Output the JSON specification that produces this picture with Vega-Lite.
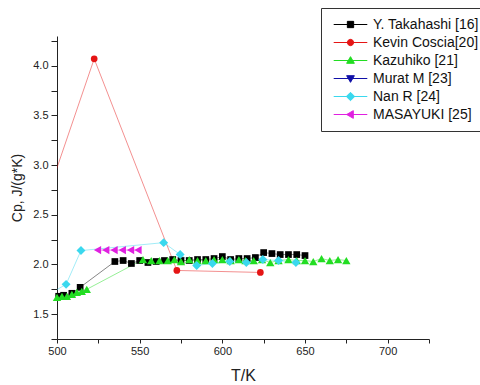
{
  "$schema": "https://vega.github.io/schema/vega-lite/v6.json",
  "autosize": "none",
  "width": 372,
  "height": 303,
  "padding": {"left": 57, "top": 36, "right": 51, "bottom": 46},
  "background": "white",
  "config": {
    "font": "Liberation Sans",
    "view": {"stroke": null},
    "axis": {"grid": false, "domainColor": "#222", "tickColor": "#222", "labelColor": "#222", "titleColor": "#222", "labelFont": "Liberation Sans", "titleFont": "Liberation Sans", "titleFontWeight": "normal", "labelFontSize": 11}
  },
  "data": {
    "values": [
      {"series": "Y. Takahashi [16]", "T": 501, "Cp": 1.68},
      {"series": "Y. Takahashi [16]", "T": 504, "Cp": 1.69},
      {"series": "Y. Takahashi [16]", "T": 509, "Cp": 1.71},
      {"series": "Y. Takahashi [16]", "T": 514, "Cp": 1.77},
      {"series": "Y. Takahashi [16]", "T": 535, "Cp": 2.03},
      {"series": "Y. Takahashi [16]", "T": 540, "Cp": 2.04},
      {"series": "Y. Takahashi [16]", "T": 545, "Cp": 2.01},
      {"series": "Y. Takahashi [16]", "T": 550, "Cp": 2.04},
      {"series": "Y. Takahashi [16]", "T": 555, "Cp": 2.02},
      {"series": "Y. Takahashi [16]", "T": 560, "Cp": 2.03},
      {"series": "Y. Takahashi [16]", "T": 565, "Cp": 2.04},
      {"series": "Y. Takahashi [16]", "T": 570, "Cp": 2.05},
      {"series": "Y. Takahashi [16]", "T": 575, "Cp": 2.04},
      {"series": "Y. Takahashi [16]", "T": 580, "Cp": 2.04},
      {"series": "Y. Takahashi [16]", "T": 585, "Cp": 2.05},
      {"series": "Y. Takahashi [16]", "T": 590, "Cp": 2.05},
      {"series": "Y. Takahashi [16]", "T": 595, "Cp": 2.06},
      {"series": "Y. Takahashi [16]", "T": 600, "Cp": 2.08},
      {"series": "Y. Takahashi [16]", "T": 605, "Cp": 2.05},
      {"series": "Y. Takahashi [16]", "T": 610, "Cp": 2.06},
      {"series": "Y. Takahashi [16]", "T": 615, "Cp": 2.06},
      {"series": "Y. Takahashi [16]", "T": 620, "Cp": 2.07},
      {"series": "Y. Takahashi [16]", "T": 625, "Cp": 2.12},
      {"series": "Y. Takahashi [16]", "T": 630, "Cp": 2.11},
      {"series": "Y. Takahashi [16]", "T": 635, "Cp": 2.10},
      {"series": "Y. Takahashi [16]", "T": 640, "Cp": 2.10},
      {"series": "Y. Takahashi [16]", "T": 645, "Cp": 2.10},
      {"series": "Y. Takahashi [16]", "T": 650, "Cp": 2.09},
      {"series": "Kevin Coscia[20]", "T": 480, "Cp": 2.0},
      {"series": "Kevin Coscia[20]", "T": 522.5, "Cp": 4.07},
      {"series": "Kevin Coscia[20]", "T": 572.5, "Cp": 1.94},
      {"series": "Kevin Coscia[20]", "T": 623, "Cp": 1.92},
      {"series": "Kazuhiko [21]", "T": 500, "Cp": 1.67},
      {"series": "Kazuhiko [21]", "T": 503, "Cp": 1.68},
      {"series": "Kazuhiko [21]", "T": 506, "Cp": 1.68},
      {"series": "Kazuhiko [21]", "T": 509, "Cp": 1.70},
      {"series": "Kazuhiko [21]", "T": 512, "Cp": 1.72},
      {"series": "Kazuhiko [21]", "T": 515, "Cp": 1.73},
      {"series": "Kazuhiko [21]", "T": 518, "Cp": 1.75},
      {"series": "Kazuhiko [21]", "T": 552, "Cp": 2.05},
      {"series": "Kazuhiko [21]", "T": 557, "Cp": 2.04},
      {"series": "Kazuhiko [21]", "T": 562, "Cp": 2.04},
      {"series": "Kazuhiko [21]", "T": 567, "Cp": 2.04},
      {"series": "Kazuhiko [21]", "T": 571, "Cp": 2.05},
      {"series": "Kazuhiko [21]", "T": 575, "Cp": 2.03},
      {"series": "Kazuhiko [21]", "T": 580, "Cp": 2.05},
      {"series": "Kazuhiko [21]", "T": 585, "Cp": 2.04},
      {"series": "Kazuhiko [21]", "T": 590, "Cp": 2.04},
      {"series": "Kazuhiko [21]", "T": 595, "Cp": 2.05},
      {"series": "Kazuhiko [21]", "T": 600, "Cp": 2.05},
      {"series": "Kazuhiko [21]", "T": 605, "Cp": 2.04},
      {"series": "Kazuhiko [21]", "T": 610, "Cp": 2.05},
      {"series": "Kazuhiko [21]", "T": 614, "Cp": 2.04},
      {"series": "Kazuhiko [21]", "T": 619, "Cp": 2.04},
      {"series": "Kazuhiko [21]", "T": 624, "Cp": 2.05},
      {"series": "Kazuhiko [21]", "T": 629, "Cp": 2.02},
      {"series": "Kazuhiko [21]", "T": 634, "Cp": 2.04},
      {"series": "Kazuhiko [21]", "T": 640, "Cp": 2.05},
      {"series": "Kazuhiko [21]", "T": 645, "Cp": 2.04},
      {"series": "Kazuhiko [21]", "T": 650, "Cp": 2.04},
      {"series": "Kazuhiko [21]", "T": 655, "Cp": 2.03},
      {"series": "Kazuhiko [21]", "T": 660, "Cp": 2.06},
      {"series": "Kazuhiko [21]", "T": 665, "Cp": 2.04},
      {"series": "Kazuhiko [21]", "T": 670, "Cp": 2.05},
      {"series": "Kazuhiko [21]", "T": 675, "Cp": 2.04},
      {"series": "Nan R [24]", "T": 495, "Cp": 1.70},
      {"series": "Nan R [24]", "T": 505.5, "Cp": 1.80},
      {"series": "Nan R [24]", "T": 514.5, "Cp": 2.14},
      {"series": "Nan R [24]", "T": 564.5, "Cp": 2.22},
      {"series": "Nan R [24]", "T": 574.5, "Cp": 2.10},
      {"series": "Nan R [24]", "T": 584.5, "Cp": 1.99},
      {"series": "Nan R [24]", "T": 594, "Cp": 2.01},
      {"series": "Nan R [24]", "T": 604.5, "Cp": 2.03},
      {"series": "Nan R [24]", "T": 614.5, "Cp": 2.02},
      {"series": "Nan R [24]", "T": 624.5, "Cp": 2.05},
      {"series": "Nan R [24]", "T": 634, "Cp": 2.04},
      {"series": "Nan R [24]", "T": 644.5, "Cp": 2.02},
      {"series": "MASAYUKI [25]", "T": 524.5, "Cp": 2.145},
      {"series": "MASAYUKI [25]", "T": 529.5, "Cp": 2.145},
      {"series": "MASAYUKI [25]", "T": 534.5, "Cp": 2.145},
      {"series": "MASAYUKI [25]", "T": 539.5, "Cp": 2.145},
      {"series": "MASAYUKI [25]", "T": 544.5, "Cp": 2.145},
      {"series": "MASAYUKI [25]", "T": 549, "Cp": 2.145}
    ]
  },
  "encoding": {
    "x": {"field": "T", "type": "quantitative", "scale": {"domain": [500, 725], "nice": false},
      "axis": {"title": "T/K", "titleFontSize": 16, "titlePadding": 11, "values": [500, 525, 550, 575, 600, 625, 650, 675, 700, 725], "labelExpr": "datum.value % 50 === 0 ? datum.label : ''", "tickSize": 4, "labelPadding": 2, "labelFlush": false}},
    "y": {"field": "Cp", "type": "quantitative", "scale": {"domain": [1.25, 4.3], "nice": false, "zero": false},
      "axis": {"title": "Cp, J/(g*K)", "titleFontSize": 14, "titlePadding": 8, "values": [1.25, 1.5, 1.75, 2.0, 2.25, 2.5, 2.75, 3.0, 3.25, 3.5, 3.75, 4.0, 4.25], "labelExpr": "datum.value % 0.5 === 0 ? format(datum.value, '.1f') : ''", "tickSize": 6, "labelPadding": 3, "labelFlush": false}},
    "color": {"field": "series", "type": "nominal",
      "scale": {"domain": ["Y. Takahashi [16]", "Kevin Coscia[20]", "Kazuhiko [21]", "Murat M [23]", "Nan R [24]", "MASAYUKI [25]"],
                "range": ["#000000", "#e51515", "#22dd22", "#1010a8", "#3ad8ee", "#e020e0"]},
      "legend": {
        "title": null, "orient": "none", "legendX": 264, "legendY": -28,
        "strokeColor": "#333", "padding": 9, "fillColor": "white",
        "labelFontSize": 14, "labelColor": "#111", "labelFont": "Liberation Sans",
        "symbolSize": 196, "symbolStrokeWidth": 1, "symbolOpacity": 1, "labelOffset": 15, "rowPadding": 3, "symbolOffset": 13,
        "encode": {"symbols": {"update": {
          "shape": {"signal": "datum.value === 'Y. Takahashi [16]' ? 'M-2.4,0H2.4M-0.45,-0.45H0.45V0.45H-0.45Z' : datum.value === 'Kevin Coscia[20]' ? 'M-2.4,0H2.4M-0.45,0A0.45,0.45,0,1,1,0.45,0A0.45,0.45,0,1,1,-0.45,0Z' : datum.value === 'Kazuhiko [21]' ? 'M-2.4,0H2.4M0,-0.55L0.55,0.4H-0.55Z' : datum.value === 'Murat M [23]' ? 'M-2.4,0H2.4M0,0.55L0.55,-0.4H-0.55Z' : datum.value === 'Nan R [24]' ? 'M-2.4,0H2.4M0,-0.6L0.6,0L0,0.6L-0.6,0Z' : 'M-2.4,0H2.4M-0.55,0L0.4,-0.55V0.55Z'"},
          "strokeWidth": {"value": 1},
          "opacity": {"value": 1}
        }}}
      }
    }
  },
  "layer": [
    {"mark": {"type": "line", "strokeWidth": 0.8, "opacity": 0.6, "clip": true}},
    {"transform": [{"filter": "datum.series === 'Y. Takahashi [16]' && datum.T >= 500"}],
     "mark": {"type": "point", "filled": true, "opacity": 1, "size": 45, "shape": "square"}},
    {"transform": [{"filter": "datum.series === 'Kevin Coscia[20]' && datum.T >= 500"}],
     "mark": {"type": "point", "filled": true, "opacity": 1, "size": 45, "shape": "circle"}},
    {"transform": [{"filter": "datum.series === 'Kazuhiko [21]' && datum.T >= 500"}],
     "mark": {"type": "point", "filled": true, "opacity": 1, "size": 70, "shape": "triangle-up"}},
    {"transform": [{"filter": "datum.series === 'Nan R [24]' && datum.T >= 500"}],
     "mark": {"type": "point", "filled": true, "opacity": 1, "size": 80, "shape": "diamond"}},
    {"transform": [{"filter": "datum.series === 'MASAYUKI [25]' && datum.T >= 500"}],
     "mark": {"type": "point", "filled": true, "opacity": 1, "size": 70, "shape": "triangle-left"}}
  ]
}
